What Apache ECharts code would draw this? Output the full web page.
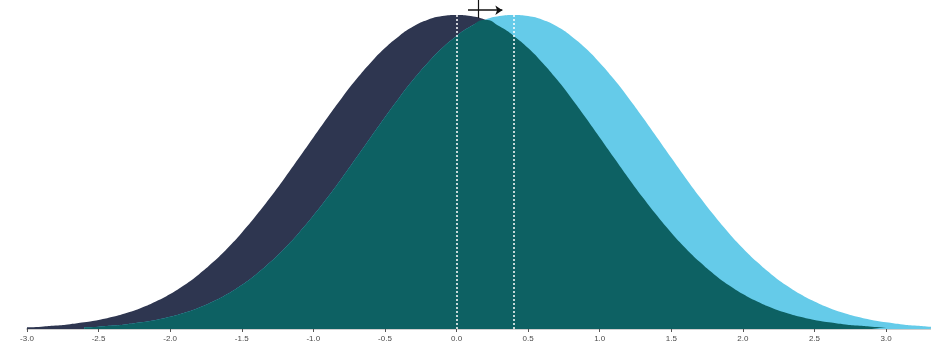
<!DOCTYPE html>
<html>
<head>
<meta charset="utf-8">
<script src="https://cdn.jsdelivr.net/npm/echarts@6/dist/echarts.min.js"></script>
<style>
html,body{margin:0;padding:0;background:#fff;}
#chart{width:931px;height:348px;}
</style>
</head>
<body>
<div id="chart"></div>
<script>
// shared x grid
var xGrid = [-3.0,-2.9,-2.8,-2.7,-2.6,-2.5,-2.4,-2.3,-2.2,-2.1,-2.0,-1.9,-1.8,-1.7,-1.6,-1.5,-1.4,-1.3,-1.2,-1.1,
  -1.0,-0.9,-0.8,-0.7,-0.6,-0.5,-0.4,-0.3,-0.2,-0.1,0.0,0.1,0.2,0.3,0.4,0.5,0.6,0.7,0.8,0.9,
  1.0,1.1,1.2,1.3,1.4,1.5,1.6,1.7,1.8,1.9,2.0,2.1,2.2,2.3,2.4,2.5,2.6,2.7,2.8,2.9,3.0,3.1,3.2,3.3,3.4];
// group A (centred at 0)
var densityA = [.0021,.0030,.0043,.0061,.0085,.0115,.0155,.0206,.0271,.0350,.0445,.0560,.0694,.0850,.1027,.1224,.1441,.1674,.1920,.2176,
  .2434,.2691,.2939,.3172,.3384,.3570,.3724,.3845,.3929,.3976,.3990,.3976,.3929,.3845,.3724,.3570,.3384,.3172,.2939,.2691,
  .2434,.2176,.1920,.1674,.1441,.1224,.1027,.0850,.0694,.0560,.0445,.0350,.0271,.0206,.0155,.0115,.0085,.0061,.0043,.0030,.0021,null,null,null,null];
// group B (centred at 0.4)
var densityB = [null,null,null,null,.0021,.0030,.0043,.0061,.0085,.0115,.0155,.0206,.0271,.0350,.0445,.0560,.0694,.0850,.1027,.1224,
  .1441,.1674,.1920,.2176,.2434,.2691,.2939,.3172,.3384,.3570,.3724,.3845,.3929,.3976,.3990,.3976,.3929,.3845,.3724,.3570,
  .3384,.3172,.2939,.2691,.2434,.2176,.1920,.1674,.1441,.1224,.1027,.0850,.0694,.0560,.0445,.0350,.0271,.0206,.0155,.0115,.0085,.0061,.0043,.0030,.0021];
var meanA = 0.0, meanB = 0.4;
var peakA = 0.399, peakB = 0.399;
var tickValues = [-3.0,-2.5,-2.0,-1.5,-1.0,-0.5,0.0,0.5,1.0,1.5,2.0,2.5,3.0];

function pairs(ys){ var out=[]; for(var i=0;i<xGrid.length;i++){ if(ys[i]!==null) out.push([xGrid[i], ys[i]]); } return out; }
var overlap=[]; for(var i=0;i<xGrid.length;i++){ if(densityA[i]!==null && densityB[i]!==null) overlap.push([xGrid[i], Math.min(densityA[i], densityB[i])]); }

var chart = echarts.init(document.getElementById('chart'));
function areaSeries(data, color, extra){
  var s = {type:'line', data:data, smooth:0.5, symbol:'none', showSymbol:false,
    lineStyle:{width:0}, areaStyle:{color:color, opacity:1}, silent:true, animation:false};
  for (var k in extra) s[k]=extra[k];
  return s;
}
var dashStyle = {color:'#ffffff', type:[2,2], width:1.5};
chart.setOption({
  animation:false,
  grid:{left:27, right:0, top:0, bottom:19, containLabel:false},
  xAxis:{type:'value', min:-3.0, max:3.314,
    axisLine:{show:true, lineStyle:{color:'#cfcfcf', width:2}},
    axisTick:{show:true, length:3, lineStyle:{color:'#555', width:1}, customValues:tickValues},
    axisLabel:{fontSize:8, color:'#4a4a4a', margin:6, fontFamily:'Liberation Sans, Arial', customValues:tickValues,
      formatter:function(v){return v.toFixed(1);}},
    splitLine:{show:false}},
  yAxis:{type:'value', min:0, max:0.418, show:false, splitLine:{show:false}},
  series:[
    areaSeries(pairs(densityA), '#2e3650', {}),
    areaSeries(pairs(densityB), '#65cbe9', {}),
    areaSeries(overlap, '#0d6163', {
      markLine:{silent:true, symbol:['none','none'], label:{show:false}, animation:false,
        data:[
          [{coord:[meanA,0], lineStyle:dashStyle},{coord:[meanA,peakA]}],
          [{coord:[meanB,0], lineStyle:dashStyle},{coord:[meanB,peakB]}],
          [{coord:[0.08,0.405], lineStyle:{color:'#111', width:1.5, type:'solid'}, symbol:'none'},{coord:[0.32,0.405], symbol:'arrow', symbolSize:7}],
          [{coord:[0.155,0.395], lineStyle:{color:'#111', width:1.2, type:'solid'}, symbol:'none'},{coord:[0.155,0.418], symbol:'none'}]
        ]}
    })
  ]
});
</script>
</body>
</html>
